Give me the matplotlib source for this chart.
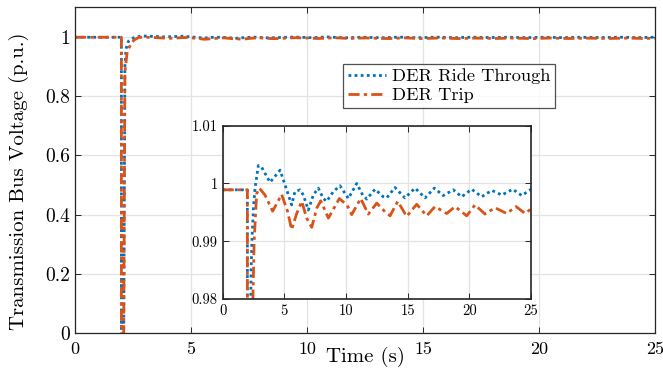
import matplotlib
matplotlib.use("Agg")
import matplotlib.pyplot as plt

# ---------------- data ----------------
t_ride = [0.0, 2.0, 2.0, 2.1, 2.15, 2.2, 2.3, 2.38, 2.5, 2.62, 2.89, 3.16, 3.84, 4.65,
          5.19, 5.59, 5.86, 6.27, 6.54, 6.94, 7.35, 7.75, 8.16, 8.43, 8.97, 9.51,
          10.19, 10.87, 11.35, 11.68, 12.35, 13.02, 13.3, 13.97, 14.78, 15.6, 16.41,
          17.16, 17.89, 18.7, 19.38, 20.19, 21.0, 21.82, 22.63, 23.52, 24.25, 25.0]
v_ride = [0.9989, 0.9989, 0.0, 0.0, 0.9, 0.96, 0.985, 0.9907, 0.996, 0.9992, 1.0031, 1.0028,
          1.0002, 1.0023, 0.9989, 0.9963, 0.9986, 0.9989, 0.998, 0.9954, 0.998, 0.9992,
          0.9974, 0.9969, 0.9986, 0.9996, 0.9974, 1.0, 0.998, 0.9973, 0.999, 0.9977,
          0.9975, 0.9993, 0.9975, 0.9992, 0.9975, 0.9992, 0.9979, 0.9989, 0.9977, 0.999,
          0.9977, 0.9988, 0.998, 0.999, 0.9979, 0.999]

t_trip = [0.0, 2.0, 2.0, 2.1, 2.15, 2.25, 2.4, 2.55, 2.75, 2.97, 3.43, 4.05, 4.78, 5.27,
          5.59, 6.0, 6.41, 6.81, 7.22, 7.62, 7.95, 8.57, 9.46, 10.1, 10.46, 11.19, 11.81,
          12.49, 13.16, 13.57, 14.19, 14.92, 15.73, 16.54, 17.22, 18.17, 18.84, 19.79,
          20.46, 21.27, 22.08, 23.03, 23.79, 24.52, 25.0]
v_trip = [0.9989, 0.9989, 0.0, 0.0, 0.88, 0.95, 0.975, 0.99, 0.9982, 0.9992, 0.998, 0.9952,
          0.9981, 0.9951, 0.992, 0.9948, 0.9969, 0.994, 0.9924, 0.9957, 0.997, 0.994,
          0.9974, 0.9962, 0.9946, 0.9974, 0.9947, 0.9966, 0.9951, 0.9944, 0.9969, 0.9943,
          0.9964, 0.9944, 0.996, 0.9948, 0.996, 0.9944, 0.9963, 0.9947, 0.9958, 0.9948,
          0.996, 0.9948, 0.9956]

labels = ["DER Ride Through", "DER Trip"]
x_ticks = [0, 5, 10, 15, 20, 25]
y_ticks_main = [0, 0.2, 0.4, 0.6, 0.8, 1]
y_ticks_inset = [0.98, 0.99, 1.0, 1.01]

# ---------------- style ----------------
plt.rcParams["font.family"] = ["cmr10", "DejaVu Serif"]
plt.rcParams["mathtext.fontset"] = "cm"
plt.rcParams["axes.formatter.use_mathtext"] = True
plt.rcParams["axes.unicode_minus"] = False

BLUE = (0.0, 0.447, 0.741)
ORANGE = (0.850, 0.325, 0.098)
AXC = "#262626"
GRIDC = "#e3e3e3"

W, H = 663, 368
fig = plt.figure(figsize=(W / 100, H / 100), dpi=100)


def fr(x0, y0, x1, y1):
    return [x0 / W, 1 - y1 / H, (x1 - x0) / W, (y1 - y0) / H]


def style(ax, lab_size):
    for s in ax.spines.values():
        s.set_color(AXC)
        s.set_linewidth(0.9)
    ax.tick_params(direction="in", length=4, width=0.7, colors=AXC,
                   labelsize=lab_size, top=True, right=True, labelcolor="black")
    ax.grid(True, color=GRIDC, linewidth=0.9)
    ax.set_axisbelow(True)


DOT = (0, (1, 1.2))
DASHDOT = (0, (4, 1.5, 1.2, 1.5))

# main axes
ax = fig.add_axes(fr(75, 7.3, 655, 333.3))
style(ax, 14)
ax.plot(t_ride, v_ride, color=BLUE, lw=2.0, linestyle=DOT, label=labels[0])
ax.plot(t_trip, v_trip, color=ORANGE, lw=2.0, linestyle=DASHDOT, label=labels[1])
ax.set_xlim(0, 25)
ax.set_ylim(0, 1.1)
ax.set_xticks(x_ticks)
ax.set_yticks(y_ticks_main)
ax.set_xticklabels([str(v) for v in x_ticks])
ax.set_yticklabels(["0", "0.2", "0.4", "0.6", "0.8", "1"])
ax.tick_params(axis="x", pad=6, labelsize=13)
ax.set_xlabel("Time (s)", fontsize=15)
ax.xaxis.set_label_coords(0.5, -0.042)
ax.set_ylabel("Transmission Bus Voltage (p.u.)", fontsize=15)
ax.yaxis.set_label_coords(-0.08, 0.465)

leg = ax.legend(loc="upper left", bbox_to_anchor=((343 - 75) / 580, (333.3 - 64) / 326),
                fontsize=13.2, frameon=True, fancybox=False, handlelength=2.1,
                handletextpad=0.3, borderpad=0.25, labelspacing=0.15, borderaxespad=0)
leg.get_frame().set_edgecolor(AXC)
leg.get_frame().set_linewidth(0.9)

# inset axes
ai = fig.add_axes(fr(222.7, 125.7, 531, 299))
style(ai, 10.5)
for s in ai.spines.values():
    s.set_linewidth(1.2)
ai.plot(t_ride, v_ride, color=BLUE, lw=2.0, linestyle=DOT)
ai.plot(t_trip, v_trip, color=ORANGE, lw=2.0, linestyle=DASHDOT)
ai.set_xlim(0, 25)
ai.set_ylim(0.98, 1.01)
ai.set_xticks(x_ticks)
ai.set_yticks(y_ticks_inset)
ai.set_xticklabels([str(v) for v in x_ticks])
ai.set_yticklabels(["0.98", "0.99", "1", "1.01"])

fig.savefig("out.png", dpi=100)
